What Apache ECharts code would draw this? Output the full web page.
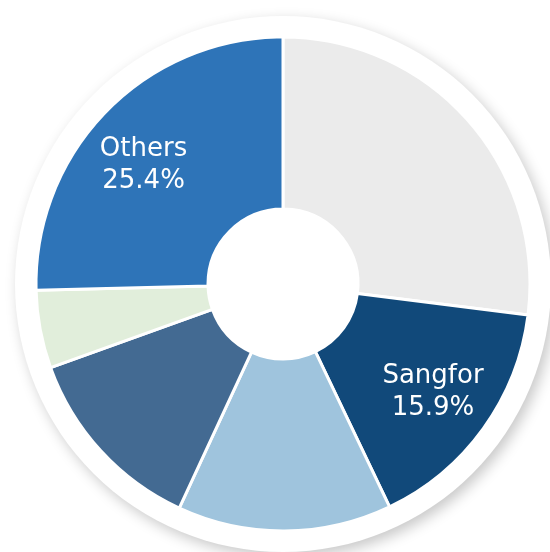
<!DOCTYPE html>
<html>
<head>
<meta charset="utf-8">
<script src="https://cdn.jsdelivr.net/npm/echarts@6/dist/echarts.min.js"></script>
<style>
    html, body { margin: 0; padding: 0; background: #fff; }
    #main { width: 550px; height: 552px; }
</style>
</head>
<body>
<div id="main"></div>
<script>
// slices, clockwise from 12 o'clock
var names = ['Vendor A', 'Sangfor', 'Vendor B', 'Vendor C', 'Vendor D', 'Others'];
var shares = [27.0, 15.9, 14.0, 12.6, 5.1, 25.4];
var colors = ['#ebebeb', '#11497a', '#9fc4dd', '#436a92', '#e1eedb', '#2e74b8'];
var shownLabels = ['Sangfor', 'Others'];

var chart = echarts.init(document.getElementById('main'));

var sliceData = [];
var labelData = [];
for (var i = 0; i < names.length; i++) {
    sliceData.push({ value: shares[i], name: names[i], itemStyle: { color: colors[i] } });
    var lbl = { show: shownLabels.indexOf(names[i]) >= 0 };
    // nudge the Others label a bit, like in the picture
    if (names[i] === 'Others') lbl.offset = [-7, 10];
    labelData.push({ value: shares[i], name: names[i], label: lbl });
}

var option = {
    animation: false,
    series: [
        // white plate behind the donut
        {
            type: 'pie',
            silent: true,
            center: [283, 284],
            radius: [0, 268],
            z: 1,
            label: { show: false },
            labelLine: { show: false },
            itemStyle: {
                color: '#ffffff',
                shadowBlur: 14,
                shadowColor: 'rgba(0,0,0,0.22)',
                shadowOffsetX: 4,
                shadowOffsetY: 5
            },
            data: [{ value: 1, name: 'plate' }]
        },
        {
            type: 'pie',
            silent: true,
            center: [283, 284],
            radius: [75, 247],
            startAngle: 90,
            clockwise: true,
            z: 2,
            label: { show: false },
            labelLine: { show: false },
            itemStyle: { borderColor: '#ffffff', borderWidth: 3 },
            data: sliceData
        },
        // transparent ring only used to place the labels
        {
            type: 'pie',
            silent: true,
            center: [283, 284],
            radius: [117, 247],
            startAngle: 90,
            clockwise: true,
            z: 3,
            itemStyle: { color: 'rgba(0,0,0,0)' },
            labelLine: { show: false },
            label: {
                position: 'inside',
                color: '#ffffff',
                fontFamily: 'DejaVu Sans',
                fontSize: 26,
                lineHeight: 32,
                formatter: function (p) {
                    return p.name + '\n' + p.value.toFixed(1) + '%';
                }
            },
            data: labelData
        }
    ]
};

chart.setOption(option);
</script>
</body>
</html>
